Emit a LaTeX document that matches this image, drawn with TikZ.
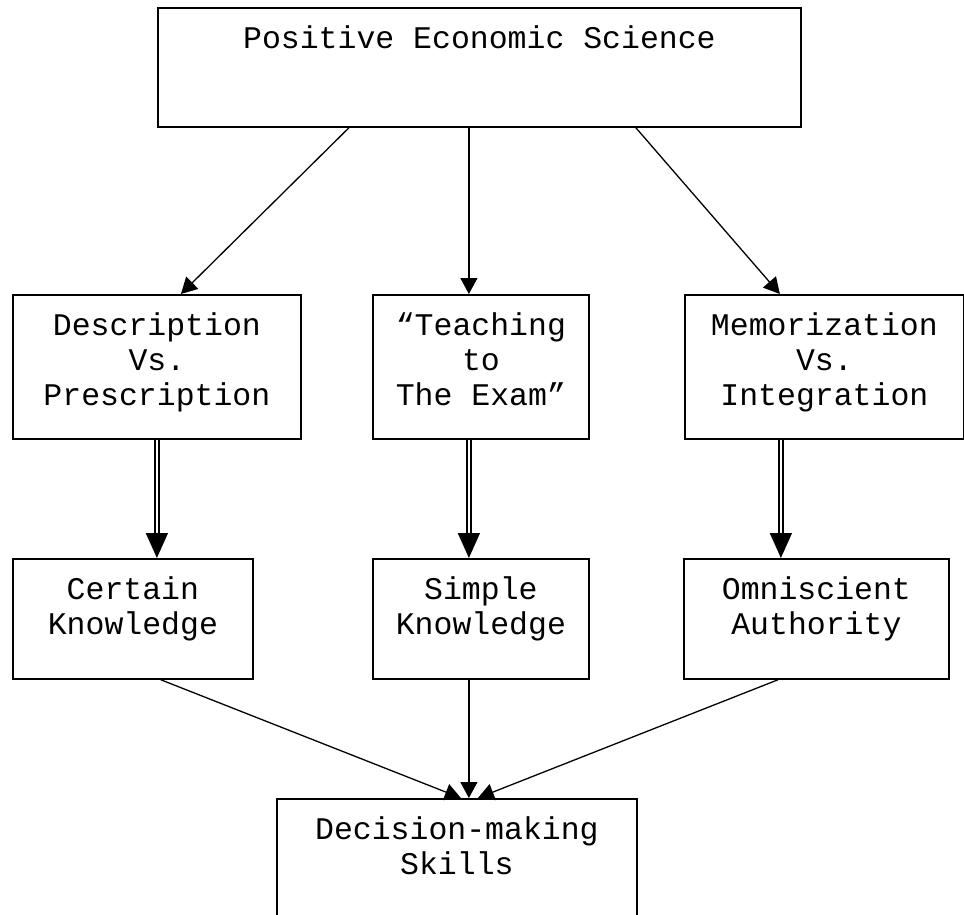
\documentclass[tikz,border=0pt]{standalone}
\usepackage{fontspec}
\newfontfamily\cour{Liberation Mono}
\usetikzlibrary{arrows.meta}
\newcommand\boxtext[2]{\parbox[t]{#1}{\centering #2}}
\begin{document}
\begin{tikzpicture}[x=1pt,y=-1pt,
 box/.style={draw, line width=1.8pt, inner sep=0pt, anchor=north west,
   font=\cour\fontsize{31.5}{35}\selectfont, text height=41pt},
 arr/.style={line width=1.3pt, -{Triangle[width=17pt,length=16pt]}},
 dbl/.style={double, double distance=2.6pt, line width=1.6pt, -{Triangle[width=22pt,length=25pt]}}]
\useasboundingbox (0,0) rectangle (964,915);
\clip (0,0) rectangle (964,915);

\node[box, minimum width=643pt, text depth=78pt] (top) at (157,7) {\boxtext{643pt}{Positive Economic Science}};
\node[box, minimum width=288pt, text depth=103pt] (d) at (12,294) {\boxtext{288pt}{Description\\Vs.\\Prescription}};
\node[box, minimum width=216pt, text depth=103pt] (t) at (372,294) {\boxtext{216pt}{“Teaching\\to\\The Exam”}};
\node[box, minimum width=279pt, text depth=103pt] (m) at (684,294) {\boxtext{279pt}{Memorization\\Vs.\\Integration}};
\node[box, minimum width=240pt, text depth=79pt] (c) at (12,558) {\boxtext{240pt}{Certain\\Knowledge}};
\node[box, minimum width=216pt, text depth=79pt] (s) at (372,558) {\boxtext{216pt}{Simple\\Knowledge}};
\node[box, minimum width=265pt, text depth=79pt] (o) at (683,558) {\boxtext{265pt}{Omniscient\\Authority}};
\node[box, minimum width=360pt, text depth=141pt] (dm) at (276,798) {\boxtext{360pt}{Decision-making\\Skills}};

% top to row 2
\draw[arr] ([xshift=-130.5pt]top.south) -- ([xshift=24pt]d.north);
\draw[arr] ([xshift=-10.5pt]top.south) -- ([xshift=-12pt]t.north);
\draw[arr] ([xshift=156.5pt]top.south) -- ([xshift=-44.5pt]m.north);

% row 2 to row 3 (double)
\coordinate (db) at (d.south);
\coordinate (tb) at ([xshift=-12pt]t.south);
\coordinate (mb) at ([xshift=-43.5pt]m.south);
\draw[dbl] (db) -- (db |- c.north);
\draw[dbl] (tb) -- (tb |- s.north);
\draw[dbl] (mb) -- (mb |- o.north);

% row 3 to bottom
\draw[arr] ([xshift=28pt]c.south) -- ([xshift=4pt]dm.north);
\draw[arr] ([xshift=-12pt]s.south) -- ([xshift=12pt]dm.north);
\draw[arr] ([xshift=-38.5pt]o.south) -- ([xshift=21pt]dm.north);
\end{tikzpicture}
\end{document}
